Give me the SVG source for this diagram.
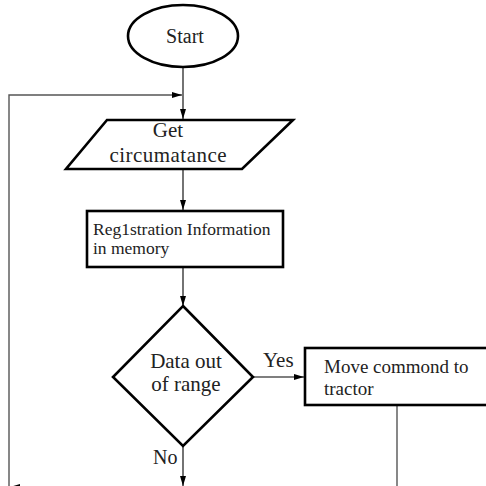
<svg xmlns="http://www.w3.org/2000/svg" width="486" height="486" viewBox="0 0 486 486">
<defs>
<style>
.node{fill:#fff;stroke:#000;stroke-width:2.6}
.con{fill:none;stroke:#000;stroke-width:1.1}
.loop{fill:none;stroke:#555;stroke-width:1.4}
text{font-family:"Liberation Serif","Times New Roman",serif;fill:#222}
</style>
<marker id="ah" viewBox="0 0 10 8" refX="10" refY="4" markerWidth="10" markerHeight="8" markerUnits="userSpaceOnUse" orient="auto">
<path d="M0,1 L10,4 L0,7 Z" fill="#000"/>
</marker>
</defs>
<rect width="486" height="486" fill="#fff"/>
<g id="connectors">
<line class="con" x1="183" y1="67" x2="183" y2="119" marker-end="url(#ah)"/>
<polyline class="loop" points="9,487 9,95 182,95" marker-end="url(#ah)"/>
<line class="con" x1="183" y1="169" x2="183" y2="210" marker-end="url(#ah)"/>
<line class="con" x1="183" y1="267" x2="183" y2="306" marker-end="url(#ah)"/>
<line class="con" x1="253" y1="377" x2="304" y2="377" marker-end="url(#ah)"/>
<line class="con" x1="183" y1="446" x2="183" y2="486" marker-end="url(#ah)"/>
<line class="loop" x1="397" y1="405" x2="397" y2="487"/>
<line class="con" x1="397" y1="487" x2="10" y2="487" marker-end="url(#ah)"/>
<text x="263" y="367" font-size="21">Yes</text>
<text x="153" y="464" font-size="20">No</text>
</g>
<g id="start">
<ellipse class="node" cx="183" cy="36" rx="55" ry="31"/>
<text x="185" y="43" font-size="20" text-anchor="middle">Start</text>
</g>
<g id="get">
<polygon class="node" points="107,120 293,120 242,169 66,169"/>
<text x="168" y="137" font-size="21" text-anchor="middle">Get</text>
<text x="168" y="162" font-size="21" text-anchor="middle" textLength="117" lengthAdjust="spacing">circumatance</text>
</g>
<g id="registration">
<rect class="node" x="87" y="211" width="196" height="56"/>
<text x="93" y="235" font-size="17.5">Reg1stration Information</text>
<text x="93" y="254" font-size="17.5">in memory</text>
</g>
<g id="decision">
<polygon class="node" points="183,306 253,377 183,446 113,377"/>
<text x="186" y="368" font-size="21" text-anchor="middle">Data out</text>
<text x="186" y="391" font-size="21" text-anchor="middle">of range</text>
</g>
<g id="move">
<rect class="node" x="305" y="348" width="190" height="57"/>
<text x="324" y="373" font-size="19">Move commond to</text>
<text x="324" y="395" font-size="19">tractor</text>
</g>
</svg>
